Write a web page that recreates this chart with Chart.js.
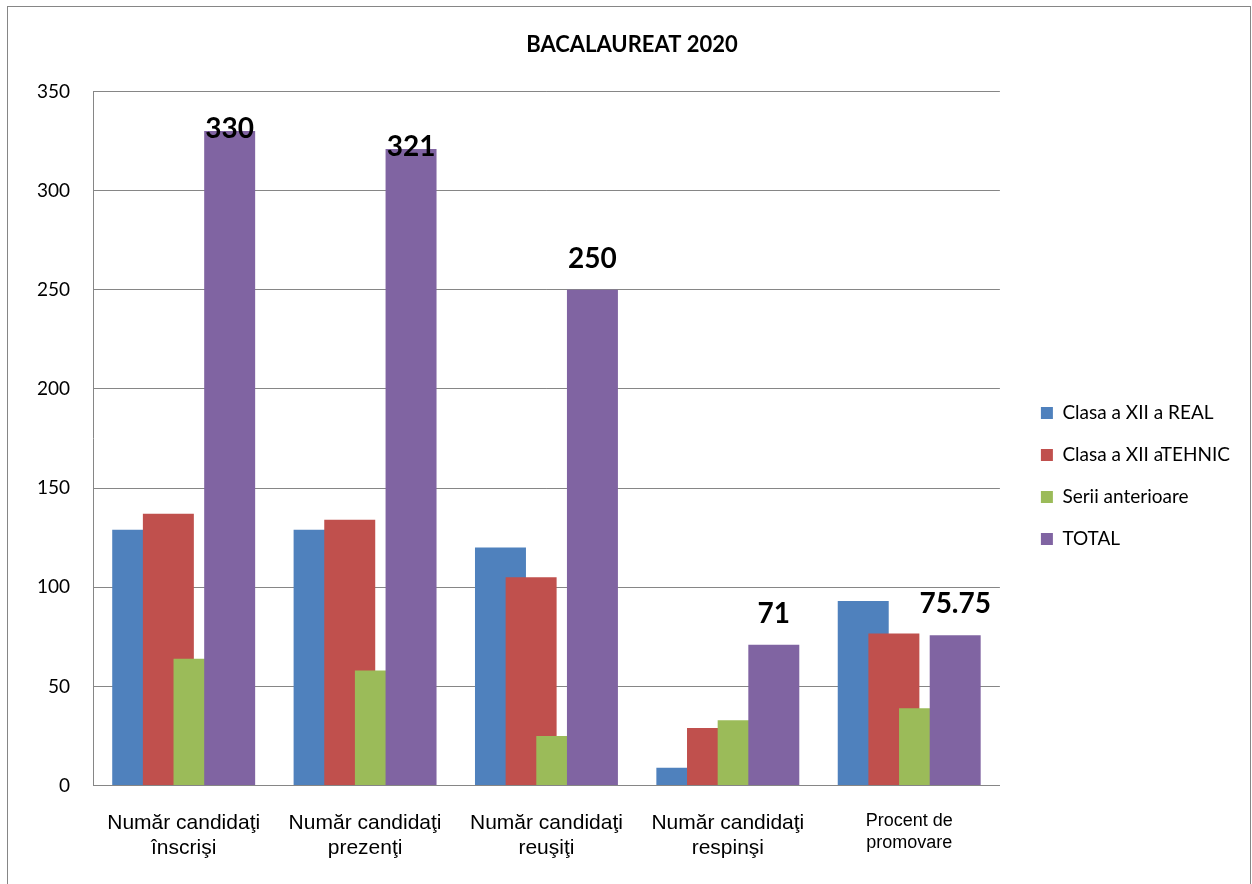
<!DOCTYPE html>
<html>
<head>
<meta charset="utf-8">
<title>Bacalaureat 2020</title>
<script src="https://cdn.jsdelivr.net/npm/chart.js@4/dist/chart.umd.min.js"></script>
<style>
  html, body { margin: 0; padding: 0; background: #fff; }
  #wrap { position: relative; width: 1252px; height: 884px; overflow: hidden; }
  #frame { position: absolute; left: 7px; top: 6px; width: 1242px; height: 900px; border: 1px solid #868686; }
  #c { position: absolute; left: 0; top: 0; }
</style>
</head>
<body>
<div id="wrap">
  <div id="frame"></div>
  <canvas id="c" width="1252" height="884"></canvas>
</div>
<script>
const categories = [
  ['Număr candidaţi', 'înscrişi'],
  ['Număr candidaţi', 'prezenţi'],
  ['Număr candidaţi', 'reuşiţi'],
  ['Număr candidaţi', 'respinşi'],
  ['Procent de', 'promovare'],
];
const seriesNames = ['Clasa a XII a REAL', 'Clasa a XII aTEHNIC', 'Serii anterioare', 'TOTAL'];
const real = [129, 129, 120, 9, 93.02];
const tehnic = [137, 134, 105, 29, 76.64];
const anterioare = [64, 58, 25, 33, 39.06];
const total = [330, 321, 250, 71, 75.75];
const yMax = 350;
const yStep = 50;

const colors = ['#4F81BD', '#C0504D', '#9BBB59', '#8064A2'];
const gridGray = '#868686';

Chart.defaults.color = '#000';
Chart.defaults.font.family = 'Lato, "Open Sans", sans-serif';

// Excel draws later series over earlier ones; chart.js does the reverse
const drawInOrder = {
  id: 'drawInOrder',
  beforeDatasetsDraw(chart) {
    chart.data.datasets.forEach((d, i) => {
      const meta = chart.getDatasetMeta(i);
      if (!meta.hidden) meta.controller.draw();
    });
    return false;
  }
};

// value labels on the TOTAL series only (afterDraw, since the
// datasets hook above cancels afterDatasetsDraw)
const totalLabels = {
  id: 'totalLabels',
  afterDraw(chart) {
    const {ctx, chartArea} = chart;
    const meta = chart.getDatasetMeta(3);
    ctx.save();
    ctx.font = 'bold 28px Lato, sans-serif';
    ctx.fillStyle = '#000';
    ctx.textAlign = 'center';
    ctx.textBaseline = 'alphabetic';
    meta.data.forEach((bar, i) => {
      const fitsAbove = bar.y - 62 >= chartArea.top;
      const y = fitsAbove ? bar.y - 22 : bar.y + 7;
      ctx.fillText(String(total[i]), bar.x, y);
    });
    ctx.restore();
  }
};

const series = [real, tehnic, anterioare, total];

new Chart(document.getElementById('c'), {
  type: 'bar',
  data: {
    labels: categories,
    datasets: series.map((vals, i) => ({
      label: seriesNames[i],
      data: vals,
      backgroundColor: colors[i],
      borderWidth: 0,
      categoryPercentage: 0.676,
      barPercentage: 1.663,
    })),
  },
  options: {
    responsive: false,
    animation: false,
    layout: { padding: { top: 0, right: 12, bottom: -2, left: 24 } },
    plugins: {
      tooltip: { enabled: false },
      title: {
        display: true,
        text: 'BACALAUREAT 2020',
        font: { family: 'Lato', size: 22, weight: 'bold' },
        padding: { top: 32, bottom: 33 },
      },
      legend: {
        position: 'right',
        maxWidth: 260,
        title: { display: true, text: '', font: { size: 10 }, padding: { top: 54, bottom: 0 } },
        labels: {
          boxWidth: 12, boxHeight: 12, padding: 23,
          font: { family: 'Lato', size: 19 },
        },
      },
    },
    scales: {
      x: {
        grid: { display: false, drawTicks: false },
        border: { color: gridGray },
        ticks: {
          autoSkip: false, maxRotation: 0, padding: 25,
          font: c => ({ family: '"Liberation Sans", Arial, sans-serif', size: c.index === 4 ? 18 : 21 }),
        },
      },
      y: {
        min: 0, max: yMax,
        grid: { color: gridGray, drawTicks: false },
        border: { color: gridGray },
        ticks: { stepSize: yStep, padding: 23, font: { family: 'Lato', size: 19 } },
        afterFit(s) { s.width = 69; },
      },
      yGap: {
        position: 'right',
        grid: { display: false, drawTicks: false },
        border: { display: false },
        ticks: { display: false },
        afterFit(s) { s.width = 18; },
      },
    },
  },
  plugins: [drawInOrder, totalLabels],
});
</script>
</body>
</html>
